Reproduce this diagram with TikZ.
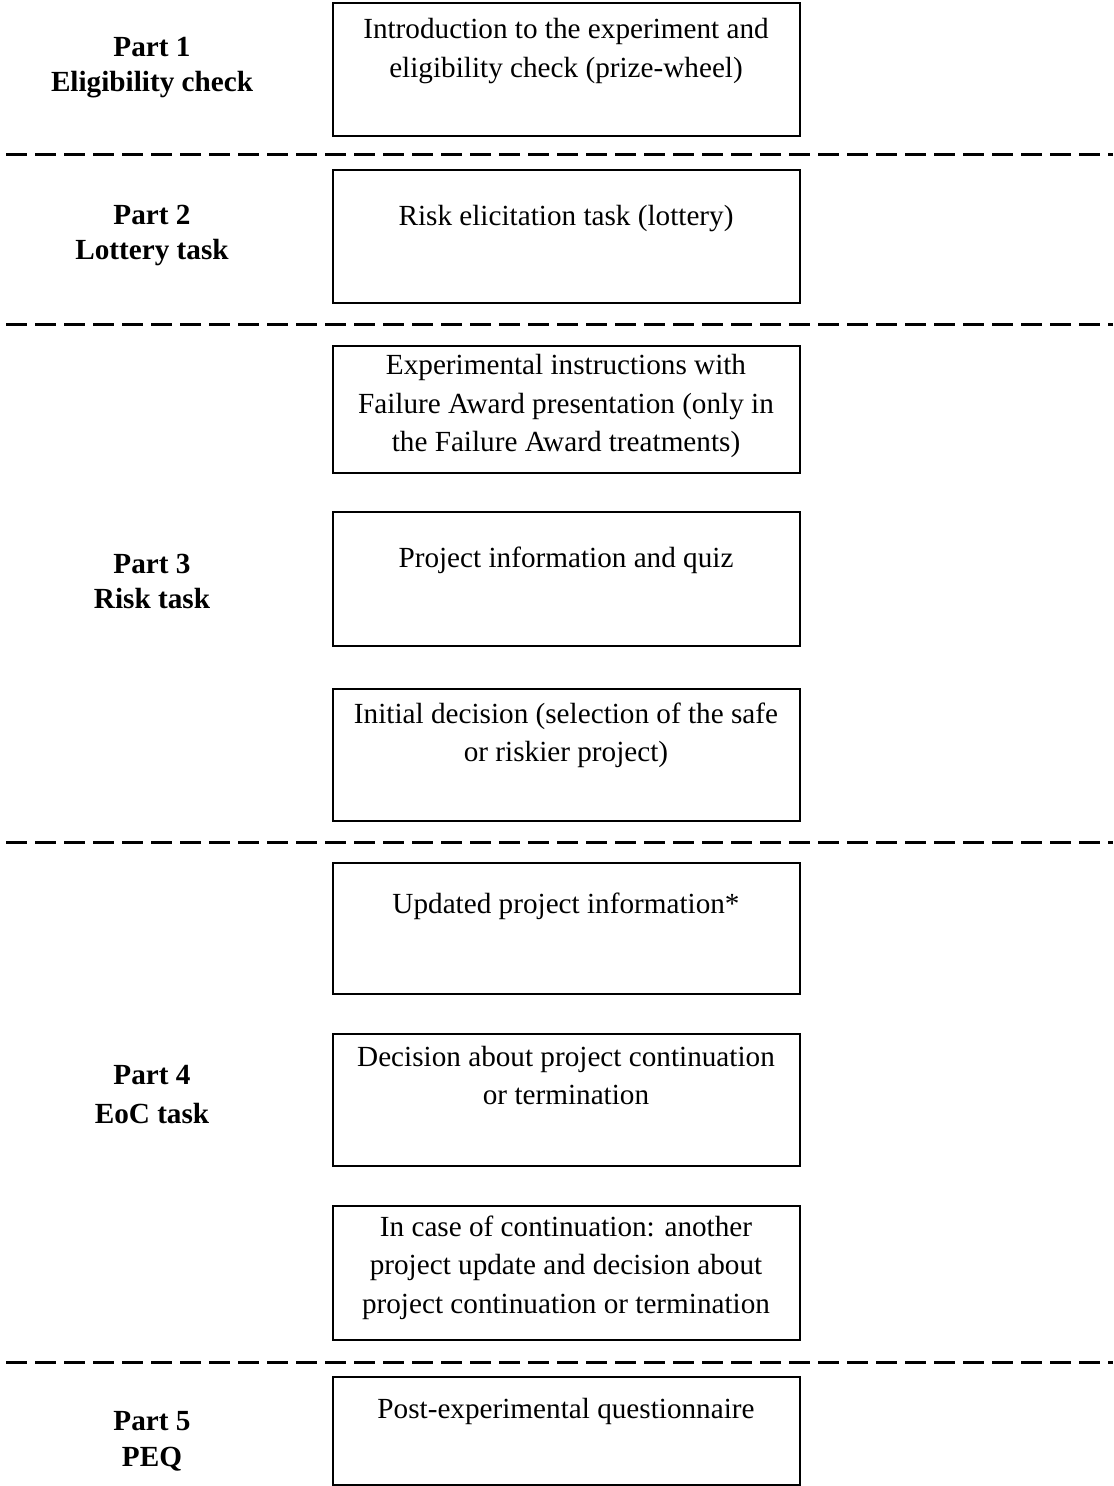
\documentclass[tikz,border=0pt]{standalone}
\usepackage{fontspec}
\setmainfont{Liberation Serif}
\begin{document}
\begin{tikzpicture}[x=0.5pt,y=-0.5pt,
  stepbox/.style={draw, line width=1.1pt, anchor=north west, inner sep=0pt, minimum width=233.5pt},
  boxtext/.style={anchor=base, inner sep=0pt, font=\fontsize{14.6}{19.25}\selectfont},
  lbl/.style={anchor=base, inner sep=0pt, font=\fontsize{14.6}{17.5}\selectfont\bfseries},
  sepline/.style={line width=1.5pt, dash pattern=on 10.5pt off 4pt}]
\useasboundingbox (0,0) rectangle (1113,1486);

% boxes
\node[stepbox, minimum height=66.5pt] (b1) at (332,2) {};
\node[stepbox, minimum height=66.5pt] (b2) at (332,169) {};
\node[stepbox, minimum height=63.5pt] (b3) at (332,345) {};
\node[stepbox, minimum height=67pt] (b4) at (332,511) {};
\node[stepbox, minimum height=66pt] (b5) at (332,688) {};
\node[stepbox, minimum height=65.5pt] (b6) at (332,862) {};
\node[stepbox, minimum height=66pt] (b7) at (332,1033) {};
\node[stepbox, minimum height=67pt] (b8) at (332,1205) {};
\node[stepbox, minimum height=54pt] (b9) at (332,1376) {};

% box texts
\node[boxtext] (t1) at (566,39) {\begin{tabular}[t]{@{}c@{}}Introduction to the experiment and\\ eligibility check (prize-wheel)\end{tabular}};
\node[boxtext] (t2) at (566,226) {\begin{tabular}[t]{@{}c@{}}Risk elicitation task (lottery)\end{tabular}};
\node[boxtext] (t3) at (566,375) {\begin{tabular}[t]{@{}c@{}}Experimental instructions with\\ Failure Award presentation (only in\\ the Failure Award treatments)\end{tabular}};
\node[boxtext] (t4) at (566,567) {\begin{tabular}[t]{@{}c@{}}Project information and quiz\end{tabular}};
\node[boxtext] (t5) at (566,723) {\begin{tabular}[t]{@{}c@{}}Initial decision (selection of the safe\\ or riskier project)\end{tabular}};
\node[boxtext] (t6) at (566,913) {\begin{tabular}[t]{@{}c@{}}Updated project information*\end{tabular}};
\node[boxtext] (t7) at (566,1066) {\begin{tabular}[t]{@{}c@{}}Decision about project continuation\\ or termination\end{tabular}};
\node[boxtext] (t8) at (566,1236) {\begin{tabular}[t]{@{}c@{}}In case of continuation: another\\ project update and decision about\\ project continuation or termination\end{tabular}};
\node[boxtext] (t9) at (566,1418) {\begin{tabular}[t]{@{}c@{}}Post-experimental questionnaire\end{tabular}};

% part labels
\node[lbl] (l1) at (152,57) {\begin{tabular}[t]{@{}c@{}}Part 1\\ Eligibility check\end{tabular}};
\node[lbl] (l2) at (152,225) {\begin{tabular}[t]{@{}c@{}}Part 2\\ Lottery task\end{tabular}};
\node[lbl] (l3) at (152,573) {\begin{tabular}[t]{@{}c@{}}Part 3\\ Risk task\end{tabular}};
\node[lbl] (l4) at (152,1084) {\begin{tabular}[t]{@{}c@{}}Part 4\\[2pt] EoC task\end{tabular}};
\node[lbl] (l5) at (152,1430) {\begin{tabular}[t]{@{}c@{}}Part 5\\[0.5pt] PEQ\end{tabular}};

% separators
\coordinate (s1a) at (6,155);  \coordinate (s1b) at (1113,155);
\coordinate (s2a) at (6,325);  \coordinate (s2b) at (1113,325);
\coordinate (s3a) at (6,842);  \coordinate (s3b) at (1113,842);
\coordinate (s4a) at (6,1362); \coordinate (s4b) at (1113,1362);
\draw[sepline] (s1a) -- (s1b);
\draw[sepline] (s2a) -- (s2b);
\draw[sepline] (s3a) -- (s3b);
\draw[sepline] (s4a) -- (s4b);
\end{tikzpicture}
\end{document}
